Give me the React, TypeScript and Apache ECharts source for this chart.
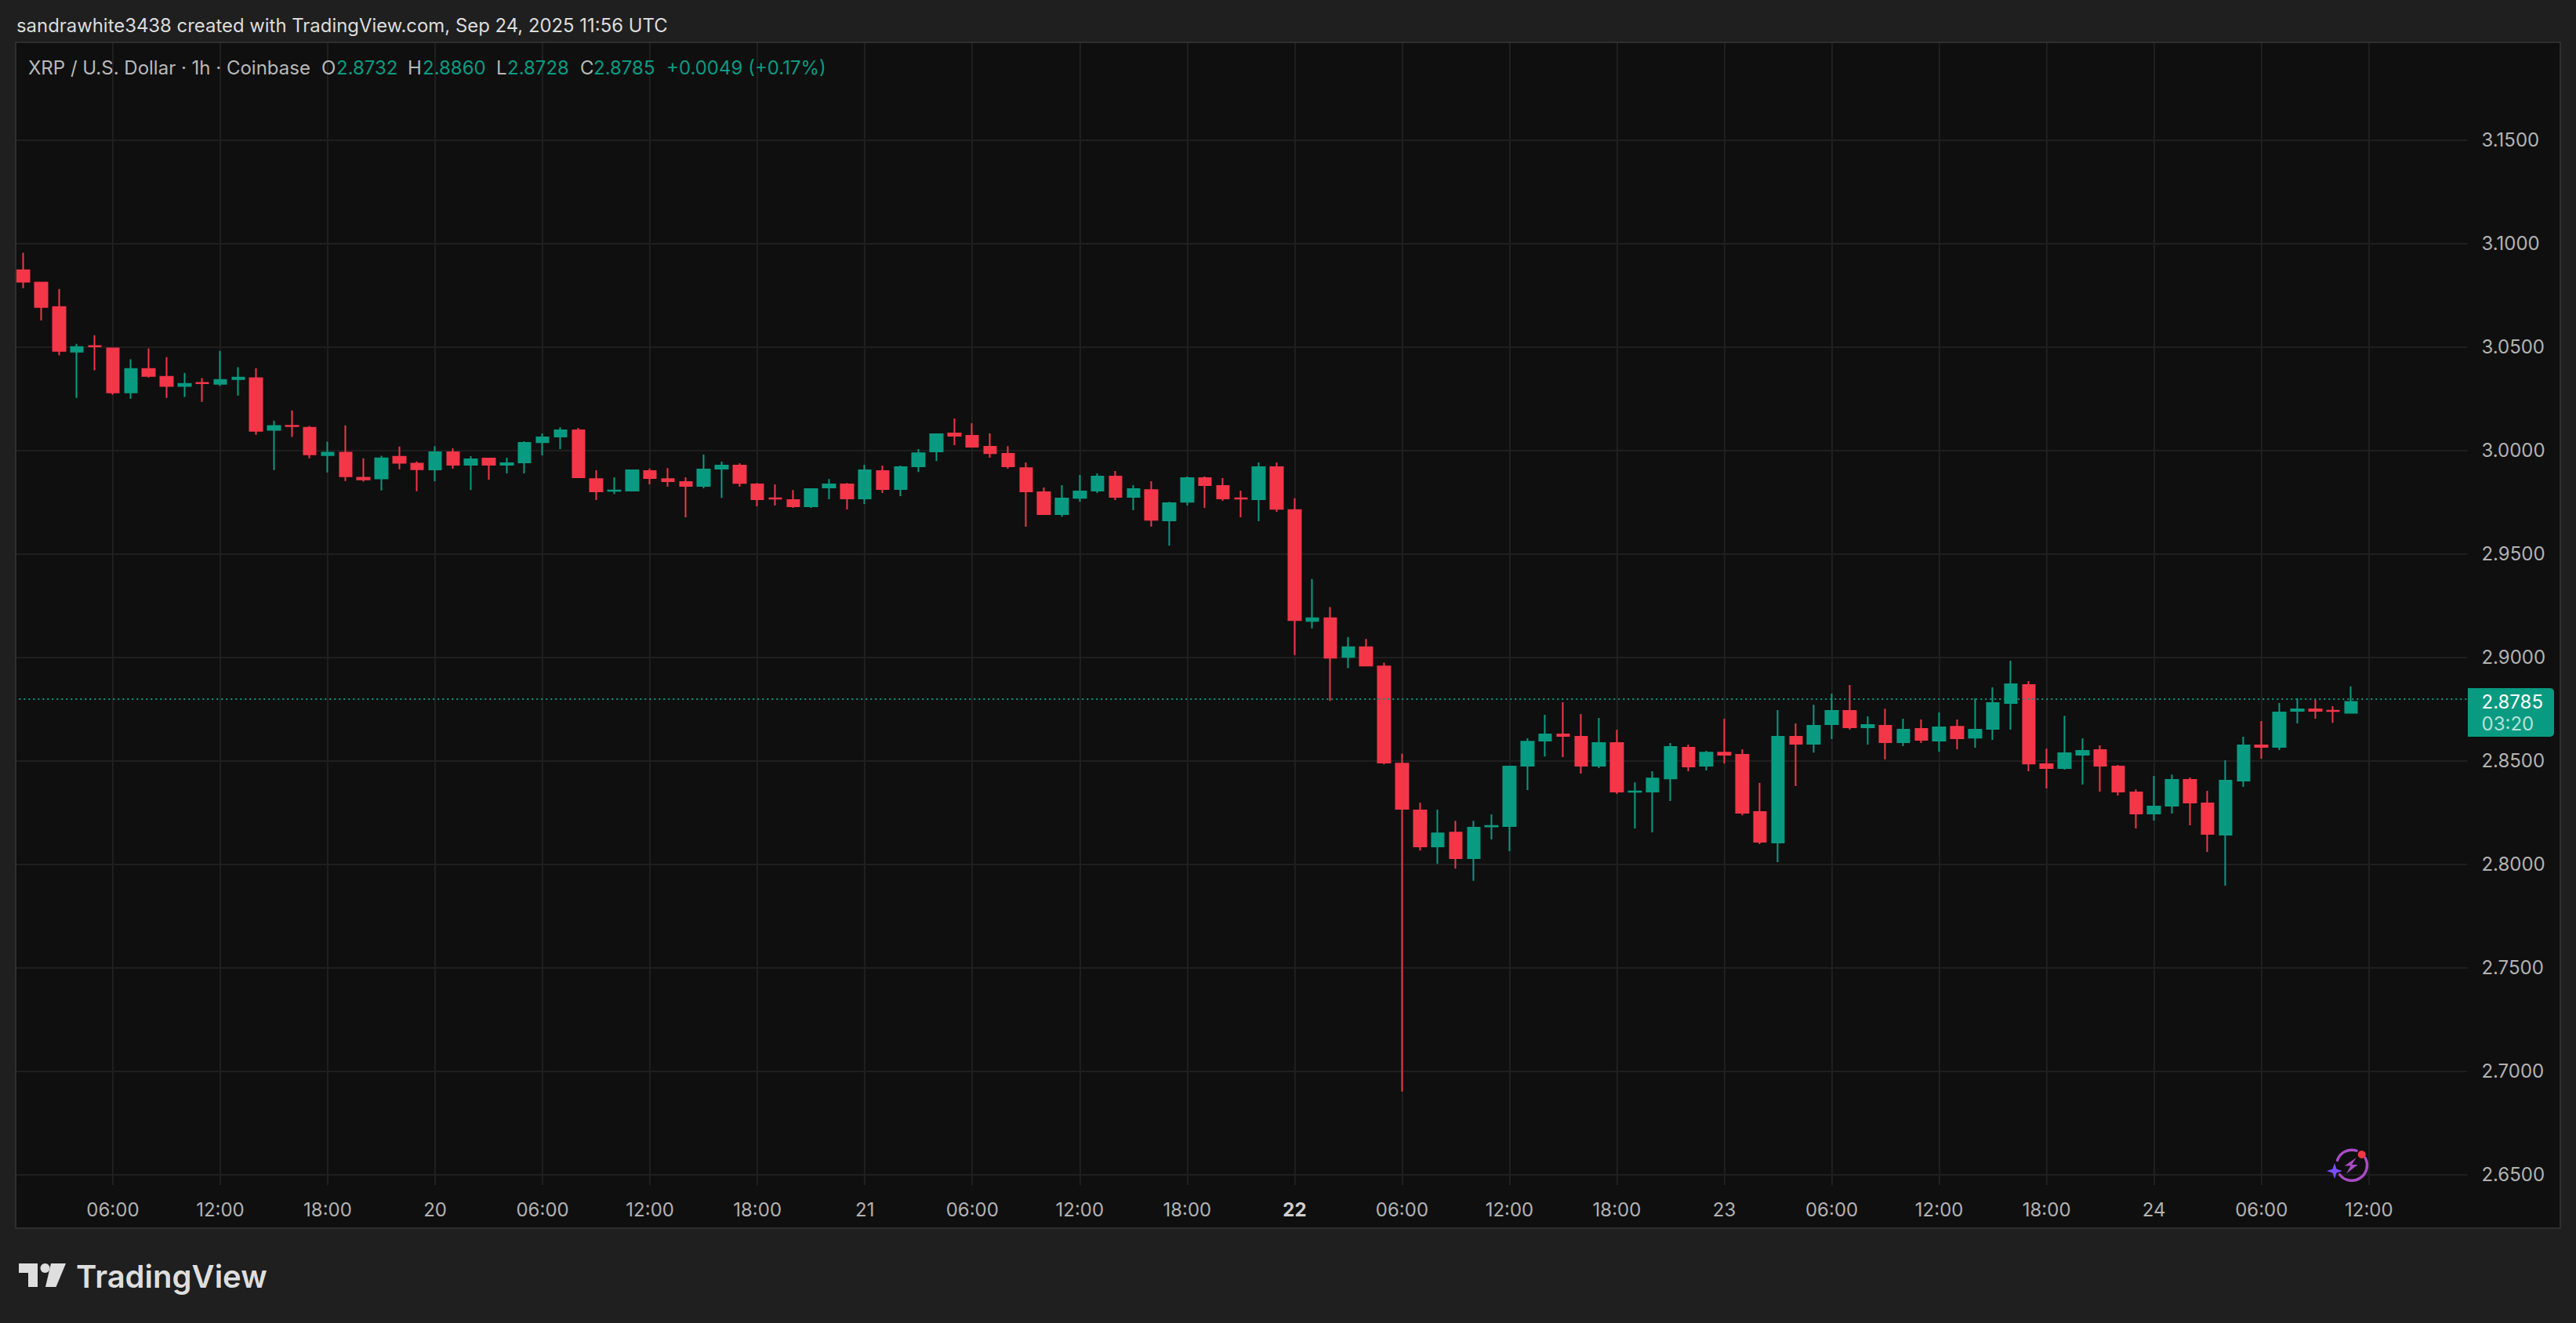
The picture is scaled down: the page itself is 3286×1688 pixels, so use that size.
import React, { useEffect, useRef } from "react";
import * as echarts from "echarts";

const tickLabels = ["06:00","12:00","18:00","20","06:00","12:00","18:00","21","06:00","12:00","18:00","22","06:00","12:00","18:00","23","06:00","12:00","18:00","24","06:00","12:00"];
const boldLabels = ["22"];
const priceTicks = [2.65,2.7,2.75,2.8,2.85,2.9,2.95,3.0,3.05,3.1,3.15];

const opens = [3.0871,3.0811,3.0693,3.0477,3.0505,3.0493,3.0280,3.0394,3.0356,3.0311,3.0327,3.0322,3.0345,3.0349,3.0099,3.0119,3.0110,2.9977,2.9989,2.9868,2.9864,2.9970,2.9936,2.9908,2.9991,2.9931,2.9961,2.9931,2.9942,3.0040,3.0067,3.0097,2.9862,2.9805,2.9806,2.9900,2.9862,2.9847,2.9828,2.9912,2.9927,2.9836,2.9769,2.9760,2.9730,2.9821,2.9836,2.9768,2.9900,2.9813,2.9923,2.9995,3.0082,3.0071,3.0018,2.9984,2.9915,2.9798,2.9692,2.9771,2.9806,2.9874,2.9775,2.9809,2.9662,2.9752,2.9866,2.9828,2.9769,2.9764,2.9919,2.9712,2.9176,2.9189,2.9002,2.9049,2.8956,2.8487,2.8260,2.8086,2.8153,2.8029,2.8183,2.8184,2.8476,2.8597,2.8628,2.8616,2.8476,2.8586,2.8350,2.8351,2.8415,2.8563,2.8476,2.8540,2.8529,2.8253,2.8105,2.8616,2.8582,2.8677,2.8741,2.8662,2.8669,2.8590,2.8654,2.8597,2.8665,2.8612,2.8654,2.8779,2.8866,2.8484,2.8465,2.8529,2.8552,2.8472,2.8347,2.8245,2.8283,2.8408,2.8294,2.8143,2.8404,2.8575,2.8567,2.8741,2.8749,2.8742,2.8732];
const closes = [3.0815,3.0693,3.0481,3.0500,3.0503,3.0280,3.0394,3.0360,3.0311,3.0322,3.0325,3.0341,3.0352,3.0095,3.0118,3.0117,2.9981,2.9989,2.9875,2.9860,2.9962,2.9940,2.9909,2.9991,2.9931,2.9957,2.9931,2.9938,3.0037,3.0063,3.0097,2.9870,2.9802,2.9807,2.9904,2.9866,2.9851,2.9828,2.9908,2.9927,2.9843,2.9764,2.9767,2.9730,2.9813,2.9836,2.9768,2.9904,2.9813,2.9919,2.9987,3.0078,3.0071,3.0018,2.9987,2.9923,2.9802,2.9692,2.9768,2.9802,2.9874,2.9775,2.9813,2.9665,2.9745,2.9866,2.9832,2.9768,2.9767,2.9919,2.9718,2.9180,2.9189,2.8998,2.9049,2.8960,2.8491,2.8268,2.8086,2.8149,2.8029,2.8177,2.8185,2.8472,2.8593,2.8628,2.8620,2.8476,2.8586,2.8351,2.8352,2.8415,2.8567,2.8472,2.8540,2.8529,2.8249,2.8109,2.8616,2.8582,2.8669,2.8741,2.8662,2.8673,2.8590,2.8650,2.8601,2.8662,2.8609,2.8650,2.8779,2.8870,2.8487,2.8465,2.8537,2.8548,2.8476,2.8351,2.8245,2.8279,2.8408,2.8298,2.8147,2.8404,2.8575,2.8567,2.8734,2.8749,2.8741,2.8740,2.8785];
const lows = [3.0784,3.0629,3.0459,3.0254,3.0387,3.0269,3.0250,3.0352,3.0254,3.0258,3.0235,3.0311,3.0265,3.0076,2.9905,3.0065,2.9962,2.9894,2.9852,2.9849,2.9807,2.9909,2.9803,2.9851,2.9912,2.9809,2.9859,2.9889,2.9889,2.9976,3.0006,2.9866,2.9760,2.9790,2.9802,2.9836,2.9825,2.9677,2.9817,2.9771,2.9825,2.9730,2.9734,2.9722,2.9722,2.9764,2.9715,2.9741,2.9794,2.9779,2.9896,2.9949,3.0025,3.0014,2.9965,2.9912,2.9631,2.9688,2.9680,2.9752,2.9794,2.9760,2.9711,2.9631,2.9540,2.9734,2.9722,2.9756,2.9677,2.9658,2.9703,2.9011,2.9140,2.8790,2.8948,2.8956,2.8483,2.6901,2.8066,2.8003,2.7979,2.7920,2.8120,2.8063,2.8359,2.8521,2.8518,2.8438,2.8465,2.8340,2.8173,2.8154,2.8306,2.8450,2.8453,2.8487,2.8237,2.8097,2.8010,2.8378,2.8540,2.8605,2.8650,2.8578,2.8506,2.8571,2.8586,2.8544,2.8556,2.8563,2.8601,2.8650,2.8450,2.8366,2.8457,2.8385,2.8351,2.8332,2.8173,2.8211,2.8245,2.8188,2.8059,2.7897,2.8374,2.8510,2.8552,2.8681,2.8703,2.8684,2.8728];
const highs = [3.0955,3.0815,3.0780,3.0515,3.0557,3.0496,3.0440,3.0493,3.0451,3.0375,3.0349,3.0481,3.0402,3.0398,3.0144,3.0193,3.0118,3.0042,3.0121,2.9962,2.9974,3.0019,2.9947,3.0021,3.0010,2.9972,2.9965,2.9965,3.0044,3.0082,3.0112,3.0109,2.9904,2.9870,2.9908,2.9912,2.9915,2.9870,2.9980,2.9946,2.9938,2.9843,2.9836,2.9809,2.9817,2.9862,2.9843,2.9931,2.9927,2.9927,3.0006,3.0082,3.0154,3.0131,3.0082,3.0021,2.9942,2.9821,2.9832,2.9881,2.9889,2.9900,2.9832,2.9851,2.9752,2.9874,2.9874,2.9866,2.9806,2.9942,2.9942,2.9769,2.9379,2.9243,2.9098,2.9089,2.8974,2.8535,2.8297,2.8264,2.8210,2.8210,2.8241,2.8476,2.8609,2.8722,2.8783,2.8726,2.8707,2.8650,2.8396,2.8450,2.8586,2.8578,2.8548,2.8703,2.8556,2.8393,2.8745,2.8681,2.8771,2.8825,2.8866,2.8715,2.8752,2.8703,2.8700,2.8734,2.8700,2.8802,2.8855,2.8984,2.8885,2.8559,2.8718,2.8609,2.8575,2.8480,2.8362,2.8427,2.8434,2.8419,2.8355,2.8503,2.8616,2.8692,2.8779,2.8802,2.8794,2.8764,2.8860];
const lastPrice = 2.8785;

const UP = "#099B81";
const DOWN = "#F43649";
const FONT = "Inter";
const BAND_COUNT = 137;
const FIRST_TICK_INDEX = 5;
const TICK_STEP = 6;

const categories: string[] = Array.from({ length: BAND_COUNT }, (_, i) => {
  const k = (i - FIRST_TICK_INDEX) / TICK_STEP;
  return Number.isInteger(k) && k >= 0 && k < tickLabels.length ? tickLabels[k] : "";
});
const candleData = opens.map((o, i) => [o, closes[i], lows[i], highs[i]]);
const isTick = (index: number) => categories[index] !== "";

function txt(text: string, x: number, y: number, fill: string, fontSize = 24, extra: any = {}) {
  return {
    type: "text", x, y, z: 120, silent: true,
    style: { text, x: 0, y: 0, fill, fontSize, fontFamily: FONT, verticalAlign: "middle", align: "left", ...extra },
  };
}

function buildGraphics() {
  const under = [
    { type: "rect", z: -20, shape: { x: 20, y: 54, width: 3246, height: 1513 }, style: { fill: "#0F0F0F" } },
  ];
  const frame = [
    { type: "rect", z: 100, shape: { x: 0, y: 0, width: 3286, height: 53 }, style: { fill: "#1F1F1F" } },
    { type: "rect", z: 100, shape: { x: 0, y: 53, width: 19, height: 1515 }, style: { fill: "#1F1F1F" } },
    { type: "rect", z: 101, shape: { x: 19, y: 53, width: 3248, height: 2 }, style: { fill: "#2E2E2E" } },
    { type: "rect", z: 101, shape: { x: 19, y: 53, width: 2, height: 1515 }, style: { fill: "#2E2E2E" } },
    { type: "rect", z: 101, shape: { x: 3265, y: 53, width: 2, height: 1515 }, style: { fill: "#2E2E2E" } },
    { type: "rect", z: 101, shape: { x: 19, y: 1566, width: 3248, height: 2 }, style: { fill: "#2E2E2E" } },
  ];
  const header = [
    txt("sandrawhite3438 created with TradingView.com, Sep 24, 2025 11:56 UTC", 21, 32, "#DCDCDC", 23.9),
    txt("XRP / U.S. Dollar · 1h · Coinbase", 36, 86, "#B8B8B8", 24),
    txt("O", 410, 86, "#B8B8B8", 24),
    txt("2.8732", 429, 86, UP, 24),
    txt("H", 520, 86, "#B8B8B8", 24),
    txt("2.8860", 539, 86, UP, 24),
    txt("L", 633, 86, "#B8B8B8", 24),
    txt("2.8728", 647, 86, UP, 24),
    txt("C", 740, 86, "#B8B8B8", 24),
    txt("2.8785", 757, 86, UP, 24),
    txt("+0.0049 (+0.17%)", 850, 86, UP, 24),
  ];
  const priceTag = [
    { type: "rect", z: 110, shape: { x: 3148, y: 878, width: 110, height: 62, r: [0, 5, 5, 0] }, style: { fill: UP } },
    txt("2.8785", 3165.5, 895, "#FFFFFF", 24),
    txt("03:20", 3165.5, 923, "#B5E1DA", 24),
  ];
  const logo = [
    { type: "polygon", z: 120, shape: { points: [[24, 1612], [48, 1612], [48, 1642], [36, 1642], [36, 1624], [24, 1624]] }, style: { fill: "#DEDEDE" } },
    { type: "circle", z: 120, shape: { cx: 57.5, cy: 1618, r: 6 }, style: { fill: "#DEDEDE" } },
    { type: "polygon", z: 120, shape: { points: [[65, 1612], [84, 1612], [71.5, 1642], [58, 1642]] }, style: { fill: "#DEDEDE" } },
    txt("TradingView", 97, 1628, "#DEDEDE", 40, { fontWeight: 600 }),
  ];
  const ringStyle = { stroke: "#A94CC4", lineWidth: 3.5, fill: "none", lineCap: "round" };
  const rad = (d: number) => (d * Math.PI) / 180;
  const badge = [
    { type: "arc", z: 120, shape: { cx: 3000, cy: 1486.7, r: 19.5, startAngle: rad(199), endAngle: rad(288), clockwise: true }, style: ringStyle },
    { type: "arc", z: 120, shape: { cx: 3000, cy: 1486.7, r: 19.5, startAngle: rad(-29), endAngle: rad(142), clockwise: true }, style: ringStyle },
    { type: "circle", z: 121, shape: { cx: 3012.7, cy: 1473, r: 5 }, style: { fill: "#F23645" } },
    { type: "polygon", z: 120, shape: { points: [[3005.7, 1477], [2990.7, 1487.5], [2998.5, 1487.5], [2993, 1497.5], [3007.7, 1486], [3000, 1486]] }, style: { fill: "#A94CC4" } },
    { type: "polygon", z: 121, shape: { points: [[2978, 1484], [2980.5, 1491.5], [2988, 1494], [2980.5, 1496.5], [2978, 1504], [2975.5, 1496.5], [2968, 1494], [2975.5, 1491.5]] }, style: { fill: "#7A4DFF" } },
  ];
  return [...under, ...frame, ...header, ...priceTag, ...logo, ...badge];
}

export default function App() {
  const ref = useRef<HTMLDivElement>(null);
  useEffect(() => {
    const chart = echarts.init(ref.current!, undefined, { renderer: "svg" });
    chart.setOption({
      animation: false,
      backgroundColor: "#1F1F1F",
      graphic: { elements: buildGraphics() },
      grid: { left: 18.3, top: 54, width: 3129.1, height: 1458, containLabel: false },
      xAxis: {
        type: "category",
        data: categories,
        boundaryGap: true,
        axisLine: { show: false },
        axisTick: { show: false, alignWithLabel: true, interval: (i: number) => isTick(i) },
        splitLine: {
          show: true,
          alignWithLabel: true,
          interval: (i: number) => isTick(i),
          lineStyle: { color: "#1F1F1F", width: 2 },
        },
        axisLabel: {
          interval: (i: number) => isTick(i),
          color: "#B2B2B2",
          fontSize: 24,
          fontFamily: FONT,
          margin: 19,
          formatter: (v: string) => (boldLabels.includes(v) ? `{b|${v}}` : v),
          rich: { b: { fontWeight: 700, color: "#D0D0D0", fontSize: 24, fontFamily: FONT } },
        },
      },
      yAxis: {
        type: "value",
        position: "right",
        scale: true,
        min: 2.64496,
        max: 3.19724,
        axisLine: { show: false },
        axisTick: { show: false, customValues: priceTicks },
        splitLine: { show: true, lineStyle: { color: "#1F1F1F", width: 2 } },
        axisLabel: {
          customValues: priceTicks,
          color: "#B2B2B2",
          fontSize: 24,
          fontFamily: FONT,
          margin: 18,
          formatter: (v: number) => v.toFixed(4),
        },
      },
      series: [
        {
          type: "candlestick",
          data: candleData,
          barWidth: 16,
          silent: true,
          itemStyle: { color: UP, color0: DOWN, borderColor: UP, borderColor0: DOWN, borderWidth: 2 },
          markLine: {
            silent: true,
            symbol: "none",
            animation: false,
            label: { show: false },
            lineStyle: { color: UP, width: 2, type: [2, 4] },
            data: [{ yAxis: lastPrice }],
          },
        },
      ],
    });
    return () => chart.dispose();
  }, []);
  return <div ref={ref} style={{ position: "fixed", left: 0, top: 0, width: 3286, height: 1688 }} />;
}
